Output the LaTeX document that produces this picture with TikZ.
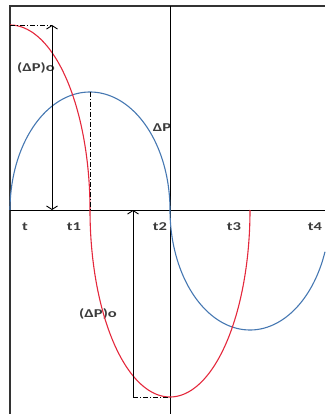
\documentclass[tikz,border=0pt]{standalone}
\usepackage{fontspec}
\setmainfont{Carlito}
\usetikzlibrary{arrows.meta}
\definecolor{curvered}{RGB}{228,40,60}
\definecolor{curveblue}{RGB}{70,120,178}
\definecolor{labelgray}{RGB}{60,60,60}
\tikzset{
  frameline/.style={draw=black!80, line width=1.2pt},
  axisline/.style={draw=black, line width=0.9pt},
  dashdotline/.style={draw=black, line width=0.9pt, dash pattern=on 5pt off 2pt on 1pt off 2pt},
  dimarrow/.style={draw=black, line width=0.9pt, arrows={-Straight Barb[length=3.5pt,width=11pt]}},
  redcurve/.style={draw=curvered, line width=1.1pt},
  bluecurve/.style={draw=curveblue, line width=1.1pt},
  lbl/.style={font=\fontsize{12}{14}\selectfont\bfseries, text=labelgray, inner sep=0pt, xscale=1.38}
}
\begin{document}
\begin{tikzpicture}[x=1pt,y=-1pt]
\useasboundingbox (0,0) rectangle (325,414);
% coordinates
\coordinate (TL) at (10,6);
\coordinate (TR) at (325,6);
\coordinate (BL) at (10,414);
\coordinate (MT) at (170,6);
\coordinate (MB) at (170,414);
\coordinate (AL) at (10,210);
\coordinate (AR) at (325,210);
\coordinate (R0) at (10,25);
\coordinate (A1t) at (52,25);
\coordinate (A1b) at (52,210);
\coordinate (Pk) at (90,92);
\coordinate (T1) at (90,210);
\coordinate (A2b) at (133,397);
\coordinate (A2t) at (133,210);
\coordinate (Rmin) at (170,397);
% labels (under the curves)
\node[lbl] (l1) at (36,68) {(ΔP)o};
\node[lbl] (l2) at (98,314) {(ΔP)o};
\node[lbl] (l3) at (162,128) {ΔP};
\node[lbl] (lt) at (25,227) {t};
\node[lbl] (lt1) at (74,227) {t1};
\node[lbl] (lt2) at (160,227) {t2};
\node[lbl] (lt3) at (234,227) {t3};
\node[lbl] (lt4) at (315,227) {t4};
% frame and axes
\draw[frameline] (BL) -- (TL) -- (TR);
\draw[axisline] (MT) -- (MB);
\draw[axisline] (AL) -- (AR);
% blue curve
\draw[bluecurve] plot[domain=180:0,samples=90] ({90+80*cos(\x)},{210-118*sin(\x)})
  -- plot[domain=180:20.4,samples=90] ({250+80*cos(\x)},{210+120*sin(\x)});
% red curve
\draw[redcurve] plot[domain=90:0,samples=60] ({10+80*cos(\x)},{210-185*sin(\x)})
  -- plot[domain=180:360,samples=120] ({170+80*cos(\x)},{210-187*sin(\x)});
% dash-dot guides
\draw[dashdotline] (R0) -- (A1t);
\draw[dashdotline] (Pk) -- (T1);
\draw[dashdotline] (A2b) -- (Rmin);
% dimension arrows
\draw[dimarrow, arrows={Straight Barb[length=3.5pt,width=11pt]-Straight Barb[length=3.5pt,width=11pt]}] (A1t) -- (A1b);
\draw[dimarrow] (A2b) -- (A2t);
\end{tikzpicture}
\end{document}
